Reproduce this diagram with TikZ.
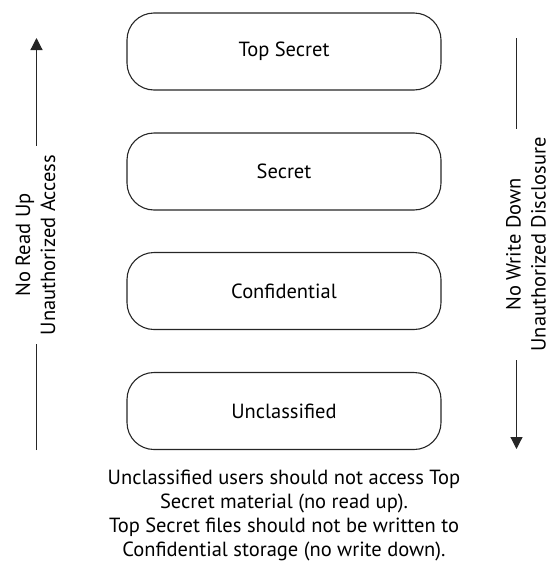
\documentclass[tikz,border=0pt]{standalone}
\usepackage{fontspec}
\setmainfont{PT Sans}
\usetikzlibrary{arrows.meta}
\begin{document}
\begin{tikzpicture}[x=1pt,y=-1pt,
  level/.style={draw=black!85, line width=1.1pt, rounded corners=27pt,
    minimum width=314pt, minimum height=77pt, inner sep=0pt,
    font=\fontsize{20.5}{24}\selectfont},
  side/.style={rotate=90, align=center, fill=white, inner xsep=9pt, inner ysep=2pt,
    font=\fontsize{20.5}{25}\selectfont},
  flow/.style={draw=black!85, line width=1.2pt, -{Triangle[length=12pt,width=12pt]}},
  note/.style={align=center, font=\fontsize{20.5}{24}\selectfont}]
\useasboundingbox (0,0) rectangle (552,565);

% security levels
\node[level] (ts) at (284,51.5)  {Top Secret};
\node[level] (s)  at (284,171.5) {Secret};
\node[level] (c)  at (284,291)   {Confidential};
\node[level] (u)  at (284,411)   {Unclassified};

% read-up arrow (left)
\coordinate (rb) at (36.5,450);
\coordinate (rt) at (36.5,38);
\draw[flow] (rb) -- (rt);
\node[side] (rl) at (35.5,245) {No Read Up\\Unauthorized Access};

% write-down arrow (right)
\coordinate (wt) at (516.5,38);
\coordinate (wb) at (516.5,449);
\draw[flow] (wt) -- (wb);
\node[side] (wl) at (526,244.5) {No Write Down\\Unauthorized Disclosure};

% caption
\node[note] (cap) at (284,515) {Unclassified users should not access Top\\
  Secret material (no read up).\\
  Top Secret files should not be written to\\
  Confidential storage (no write down).};
\end{tikzpicture}
\end{document}
